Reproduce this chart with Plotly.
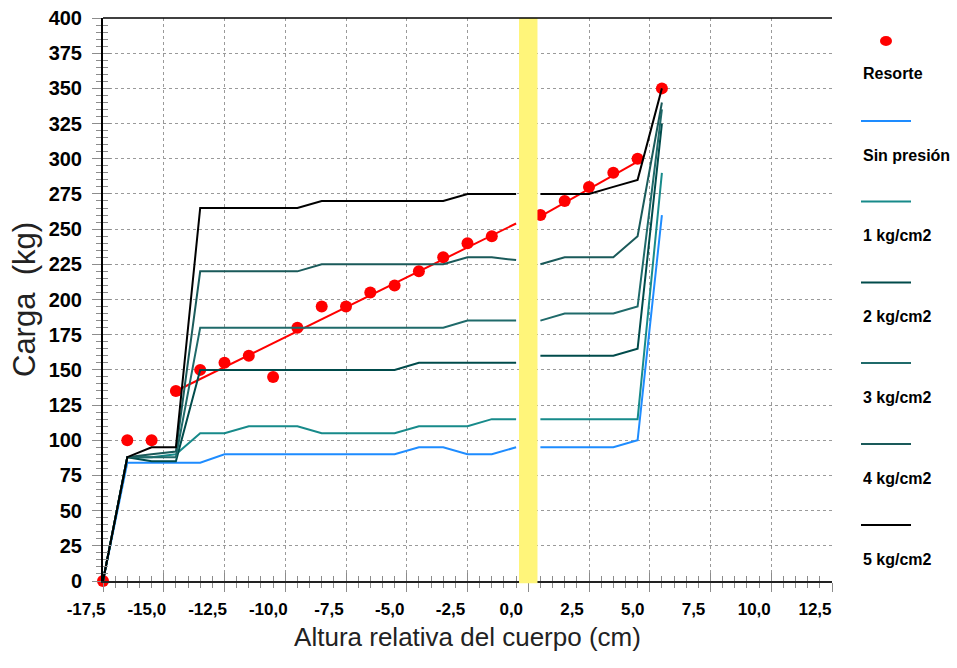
import plotly.graph_objects as go

# ---- data -------------------------------------------------------------
altura = [-17.5, -16.5, -15.5, -14.5, -13.5, -12.5, -11.5, -10.5, -9.5, -8.5,
          -7.5, -6.5, -5.5, -4.5, -3.5, -2.5, -1.5, -0.5, 0.0, 0.5, 1.5, 2.5,
          3.5, 4.5, 5.5]

sin_presion = [0, 84, 84, 84, 84, 90, 90, 90, 90, 90, 90, 90, 90, 95, 95, 90,
               90, 95, None, 95, 95, 95, 95, 100, 260]
kg1 = [0, 88, 88, 90, 105, 105, 110, 110, 110, 105, 105, 105, 105, 110, 110,
       110, 115, 115, None, 115, 115, 115, 115, 115, 290]
kg2 = [0, 88, 85, 85, 150, 150, 150, 150, 150, 150, 150, 150, 150, 155, 155,
       155, 155, 155, None, 160, 160, 160, 160, 165, 325]
kg3 = [0, 88, 88, 88, 180, 180, 180, 180, 180, 180, 180, 180, 180, 180, 180,
       185, 185, 185, None, 185, 190, 190, 190, 195, 335]
kg4 = [0, 88, 90, 92, 220, 220, 220, 220, 220, 225, 225, 225, 225, 225, 225,
       230, 230, 228, None, 225, 230, 230, 230, 245, 340]
kg5 = [0, 88, 95, 95, 265, 265, 265, 265, 265, 270, 270, 270, 270, 270, 270,
       275, 275, 275, None, 275, 275, 275, 280, 285, 350]

resorte_x = [-17.5, -16.5, -15.5, -14.5, -13.5, -12.5, -11.5, -10.5, -9.5,
             -8.5, -7.5, -6.5, -5.5, -4.5, -3.5, -2.5, -1.5, 0.5, 1.5, 2.5,
             3.5, 4.5, 5.5]
resorte_y = [0, 100, 100, 135, 150, 155, 160, 145, 180, 195, 195, 205, 210,
             220, 230, 240, 245, 260, 270, 280, 290, 300, 350]

tendencia_x = [-14.5, -0.5, None, 0.5, 4.5]
tendencia_y = [135, 254, None, 259, 298]

banda_x = [-0.38, 0.38]

x_tickvals = [-17.5, -15.0, -12.5, -10.0, -7.5, -5.0, -2.5, 0.0, 2.5, 5.0, 7.5, 10.0, 12.5]
x_ticktext = ["-17,5", "-15,0", "-12,5", "-10,0", "-7,5", "-5,0", "-2,5", "0,0",
              "2,5", "5,0", "7,5", "10,0", "12,5"]

series_names = ["Sin presión", "1 kg/cm2", "2 kg/cm2", "3 kg/cm2", "4 kg/cm2", "5 kg/cm2"]
series_vals = [sin_presion, kg1, kg2, kg3, kg4, kg5]
series_colors = ["#1E8CFF", "#178A8A", "#004B4B", "#1F6A6A", "#1A5A5A", "#000000"]

FONT = "Arial, Liberation Sans, sans-serif"
GRID = "#9A9A9A"
TICKC = "#8C8C8C"

fig = go.Figure()

fig.add_trace(go.Scatter(x=resorte_x, y=resorte_y, mode="markers", name="Resorte",
                         cliponaxis=False,
                         marker=dict(color="#FF0000", size=12, line=dict(width=0))))
fig.add_trace(go.Scatter(x=tendencia_x, y=tendencia_y, mode="lines", showlegend=False,
                         line=dict(color="#FF0000", width=2)))
for nm, vals, col in zip(series_names, series_vals, series_colors):
    fig.add_trace(go.Scatter(x=altura, y=vals, mode="lines", name=nm,
                             connectgaps=False,
                             line=dict(color=col, width=2)))

# overlay axes only to draw the inner half of the crossing tick marks
fig.add_trace(go.Scatter(x=[None], y=[None], xaxis="x2", yaxis="y2",
                         showlegend=False, hoverinfo="skip"))

# yellow band at 0
fig.add_shape(type="rect", xref="x", yref="paper", x0=banda_x[0], x1=banda_x[1],
              y0=-0.004, y1=1, fillcolor="#FFF57A", line=dict(width=0), layer="above")
# black top border
fig.add_shape(type="line", xref="paper", yref="paper", x0=0, x1=1, y0=1, y1=1,
              line=dict(color="#000000", width=1.5))

# ---- manual legend (symbol above text) ----------------------------------
W, H = 729.0, 563.0
def px2paper(px, py):
    return (px - 103) / W, (581 - py) / H

lx0, _ = px2paper(861, 0)
lx1, _ = px2paper(911, 0)
dx, dy = px2paper(886, 41)
fig.add_shape(type="circle", xref="paper", yref="paper",
              x0=dx - 6 / W, x1=dx + 6 / W, y0=dy - 5 / H, y1=dy + 5 / H,
              fillcolor="#FF0000", line=dict(width=0))
tx, ty = px2paper(861, 73)
LEGFONT = dict(family=FONT, size=16, color="#000", weight="bold")
fig.add_annotation(x=tx, y=ty, xref="paper", yref="paper", text="Resorte",
                   showarrow=False, xanchor="left", yanchor="middle", font=LEGFONT)
line_ys = [121, 201.5, 282.5, 363, 444, 525]
for nm, col, ly in zip(series_names, series_colors, line_ys):
    _, py = px2paper(0, ly)
    fig.add_shape(type="line", xref="paper", yref="paper", x0=lx0, x1=lx1, y0=py, y1=py,
                  line=dict(color=col, width=2))
    _, pty = px2paper(0, ly + 34)
    fig.add_annotation(x=tx, y=pty, xref="paper", yref="paper", text=nm,
                       showarrow=False, xanchor="left", yanchor="middle", font=LEGFONT)

fig.update_layout(
    width=957, height=668,
    margin=dict(l=103, r=125, t=18, b=87),
    paper_bgcolor="white", plot_bgcolor="white",
    showlegend=False,
    font=dict(family=FONT, color="#000"),
    xaxis=dict(
        range=[-17.5, 12.5], tickmode="array", tickvals=x_tickvals, ticktext=x_ticktext,
        showgrid=True, gridcolor=GRID, griddash="3px,3px", gridwidth=1,
        zeroline=False, showline=True, linecolor="#222", linewidth=1.5,
        ticks="outside", ticklen=9, tickcolor=TICKC, tickwidth=1,
        minor=dict(dtick=0.5, tick0=-17.5, ticks="outside", ticklen=5, tickcolor=TICKC,
                   showgrid=False),
        tickfont=dict(family=FONT, size=17, color="#000", weight="bold"),
        ticklabelshift=-17, ticklabelstandoff=3,
        title=dict(text="Altura relativa del cuerpo (cm)",
                   font=dict(family=FONT, size=26, color="#222"), standoff=10),
        automargin=False,
    ),
    yaxis=dict(
        range=[0, 400], tick0=0, dtick=25,
        showgrid=True, gridcolor=GRID, griddash="3px,3px", gridwidth=1,
        zeroline=False, showline=True, linecolor="#000", linewidth=2,
        ticks="outside", ticklen=9, tickcolor=TICKC, tickwidth=1,
        minor=dict(dtick=5, ticks="outside", ticklen=5, tickcolor=TICKC, showgrid=False),
        tickfont=dict(family=FONT, size=20, color="#000", weight="bold"),
        ticklabelstandoff=6,
        title=dict(text="Carga\u00a0 (kg)", font=dict(family=FONT, size=31, color="#222"),
                   standoff=4),
        automargin=False,
    ),
    xaxis2=dict(range=[-17.5, 12.5], tick0=-17.5, dtick=2.5, overlaying="x", anchor="y2",
                showgrid=False, zeroline=False, showline=False, showticklabels=False,
                ticks="inside", ticklen=8, tickcolor=TICKC,
                minor=dict(dtick=0.5, ticks="inside", ticklen=5, tickcolor=TICKC, showgrid=False)),
    yaxis2=dict(range=[0, 400], tick0=0, dtick=25, overlaying="y", anchor="x2", side="left",
                showgrid=False, zeroline=False, showline=False, showticklabels=False,
                ticks="inside", ticklen=8, tickcolor=TICKC,
                minor=dict(dtick=5, ticks="inside", ticklen=5, tickcolor=TICKC, showgrid=False)),
)

fig.write_html("out.html", config={"displayModeBar": False},
               post_script="document.body.style.margin='0';document.body.style.overflow='hidden';")
